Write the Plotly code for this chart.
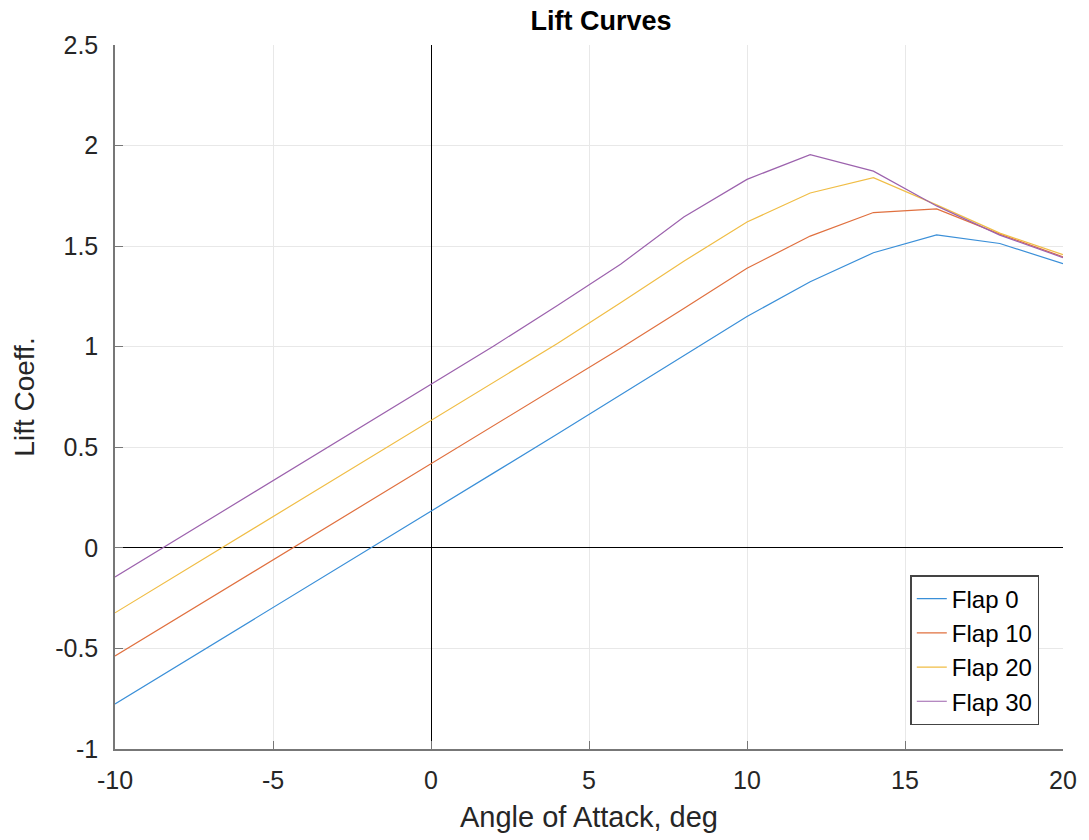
import plotly.graph_objects as go

alpha = [-10, -8, -6, -4, -2, 0, 2, 4, 6, 8, 10, 12, 14, 16, 18, 20]
flap0 = [-0.776, -0.585, -0.394, -0.203, -0.010, 0.183, 0.374, 0.566, 0.760, 0.956, 1.150, 1.323, 1.467, 1.556, 1.513, 1.413]
flap10 = [-0.538, -0.347, -0.156, 0.035, 0.226, 0.416, 0.607, 0.798, 0.992, 1.190, 1.390, 1.550, 1.667, 1.685, 1.560, 1.447]
flap20 = [-0.323, -0.132, 0.060, 0.251, 0.442, 0.632, 0.823, 1.016, 1.218, 1.425, 1.620, 1.764, 1.840, 1.705, 1.565, 1.458]
flap30 = [-0.145, 0.046, 0.237, 0.428, 0.620, 0.812, 1.005, 1.205, 1.410, 1.645, 1.832, 1.955, 1.873, 1.700, 1.555, 1.443]

series_names = ["Flap 0", "Flap 10", "Flap 20", "Flap 30"]
series_values = [flap0, flap10, flap20, flap30]
colors = ["#3a8fd8", "#e0703f", "#f0bd45", "#9c62ad"]

x_tickvals = [-10, -5, 0, 5, 10, 15, 20]
x_ticktext = ["-10", "-5", "0", "5", "10", "15", "20"]
y_tickvals = [-1, -0.5, 0, 0.5, 1, 1.5, 2, 2.5]
y_ticktext = ["-1", "-0.5", "0", "0.5", "1", "1.5", "2", "2.5"]

fig = go.Figure()
for name, vals, c in zip(series_names, series_values, colors):
    fig.add_trace(go.Scatter(x=alpha, y=vals, mode="lines", name=name,
                             line=dict(color=c, width=1.2)))

font_family = "Liberation Sans, Arial, sans-serif"
axis_common = dict(
    showgrid=True, gridcolor="#e8e8e8", gridwidth=1,
    zeroline=True, zerolinecolor="#000000", zerolinewidth=1,
    showline=True, linecolor="#777777", linewidth=1.5,
    ticks="inside", ticklen=8, tickcolor="#777777",
    tickfont=dict(family=font_family, size=25, color="#262626"),
    mirror=False,
)

fig.update_layout(
    width=1089, height=840,
    margin=dict(l=115, r=20, t=45, b=89),
    paper_bgcolor="white", plot_bgcolor="white",
    title=dict(text="<b>Lift Curves</b>", x=0.552, xanchor="center",
               y=0.975, yanchor="middle",
               font=dict(family=font_family, size=27, color="#000000")),
    xaxis=dict(range=[-10, 20], tickvals=x_tickvals, ticktext=x_ticktext,
               title=dict(text="Angle of Attack, deg", standoff=14,
                          font=dict(family=font_family, size=29, color="#262626")),
               ticklabelstandoff=8, **axis_common),
    yaxis=dict(range=[-1, 2.5], tickvals=y_tickvals, ticktext=y_ticktext,
               title=dict(text="Lift Coeff.", standoff=12,
                          font=dict(family=font_family, size=28, color="#262626")),
               ticklabelstandoff=10, **axis_common),
    legend=dict(x=0.975, y=0.034, xanchor="right", yanchor="bottom",
                bgcolor="white", bordercolor="#444444", borderwidth=1.5,
                font=dict(family=font_family, size=24, color="#000000"),
                tracegroupgap=0),
    showlegend=True,
)

fig.write_html("out.html")
